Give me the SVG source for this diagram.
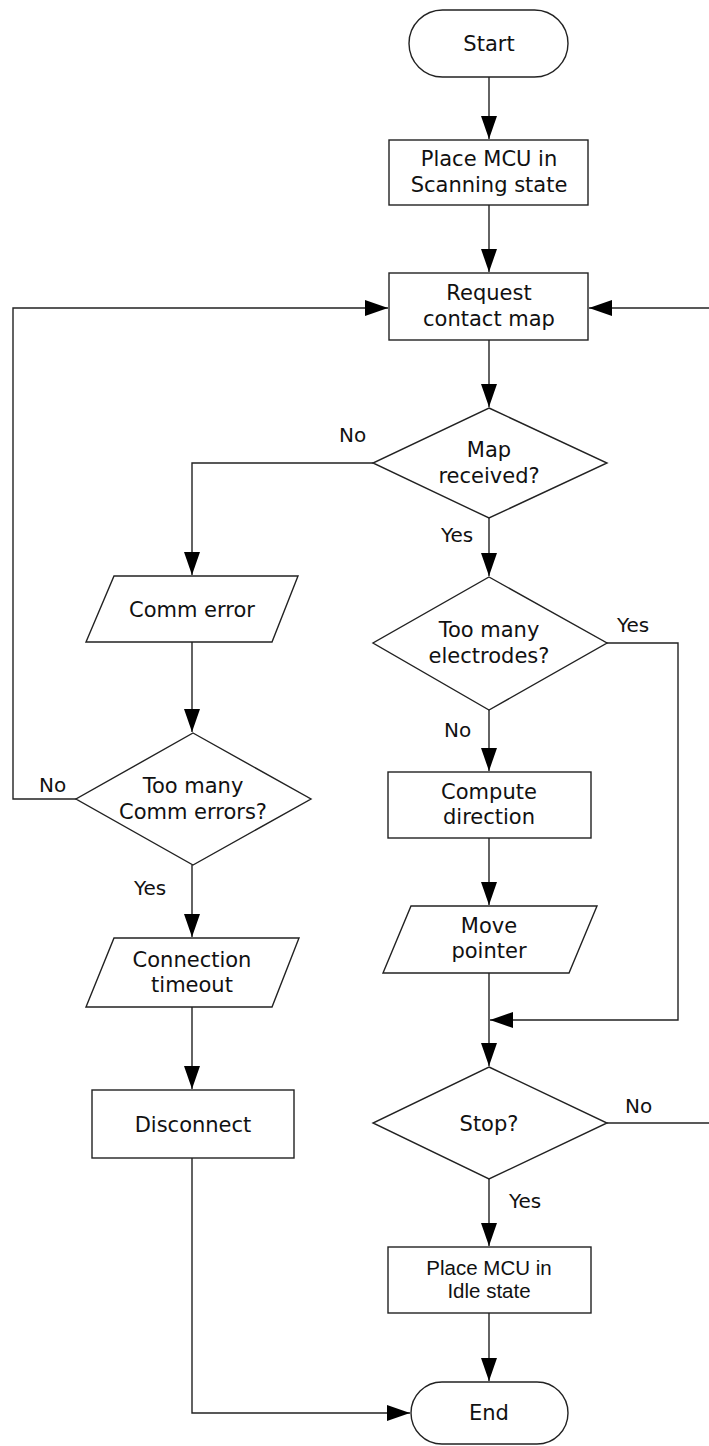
<svg xmlns="http://www.w3.org/2000/svg" width="709" height="1446" viewBox="0 0 709 1446">
<style>
.s{fill:#fff;stroke:#222;stroke-width:1.4}
.c{fill:none;stroke:#222;stroke-width:1.4}
.t{font-family:"DejaVu Sans",Verdana,sans-serif;font-size:21px;fill:#111;text-anchor:middle}
.a{font-family:"Liberation Sans",Arial,sans-serif;font-size:20.5px;fill:#111;text-anchor:middle}
.l{font-family:"DejaVu Sans",Verdana,sans-serif;font-size:20px;fill:#111}
</style>
<defs>
<marker id="ah" markerUnits="userSpaceOnUse" markerWidth="24" markerHeight="18" refX="23" refY="8" orient="auto">
<path d="M0,0 L23,8 L0,16 z" fill="#000"/>
</marker>
</defs>
<rect width="709" height="1446" fill="#fff"/>
<g id="connectors">
<path class="c" d="M489,77 V139" marker-end="url(#ah)"/>
<path class="c" d="M489,205 V272" marker-end="url(#ah)"/>
<path class="c" d="M489,340 V407" marker-end="url(#ah)"/>
<path class="c" d="M76,799 H13 V308 H388" marker-end="url(#ah)"/>
<path class="c" d="M709,308 H589" marker-end="url(#ah)"/>
<path class="c" d="M373,463 H192 V575" marker-end="url(#ah)"/>
<path class="c" d="M489,518 V576" marker-end="url(#ah)"/>
<path class="c" d="M607,643 H678 V1020 H490" marker-end="url(#ah)"/>
<path class="c" d="M489,710 V771" marker-end="url(#ah)"/>
<path class="c" d="M489,838 V905" marker-end="url(#ah)"/>
<path class="c" d="M489,973 V1066" marker-end="url(#ah)"/>
<path class="c" d="M607,1123 H709"/>
<path class="c" d="M489,1179 V1246" marker-end="url(#ah)"/>
<path class="c" d="M489,1313 V1381" marker-end="url(#ah)"/>
<path class="c" d="M192,642 V732" marker-end="url(#ah)"/>
<path class="c" d="M192,865 V937" marker-end="url(#ah)"/>
<path class="c" d="M192,1007 V1089" marker-end="url(#ah)"/>
<path class="c" d="M192,1158 V1413 H410" marker-end="url(#ah)"/>
<text class="l" x="339" y="442">No</text>
<text class="l" x="441" y="542">Yes</text>
<text class="l" x="617" y="632">Yes</text>
<text class="l" x="444" y="737">No</text>
<text class="l" x="39" y="792">No</text>
<text class="l" x="134" y="895">Yes</text>
<text class="l" x="625" y="1113">No</text>
<text class="l" x="509" y="1208">Yes</text>
</g>
<g id="start">
<rect class="s" x="409" y="10" width="159" height="67" rx="33.5"/>
<text class="t" x="489" y="51">Start</text>
</g>
<g id="scanning">
<rect class="s" x="389" y="140" width="199" height="65"/>
<text class="t" x="489" y="166">Place MCU in</text>
<text class="t" x="489" y="192">Scanning state</text>
</g>
<g id="request">
<rect class="s" x="389" y="273" width="199" height="67"/>
<text class="t" x="489" y="300">Request</text>
<text class="t" x="489" y="326">contact map</text>
</g>
<g id="map-received">
<polygon class="s" points="489,408 607,463 489,518 373,463"/>
<text class="t" x="489" y="457">Map</text>
<text class="t" x="489" y="483">received?</text>
</g>
<g id="too-many-electrodes">
<polygon class="s" points="489,577 607,643 489,710 373,643"/>
<text class="t" x="489" y="637">Too many</text>
<text class="t" x="489" y="663">electrodes?</text>
</g>
<g id="comm-error">
<polygon class="s" points="114,576 298,576 272,642 86,642"/>
<text class="t" x="192" y="617">Comm error</text>
</g>
<g id="too-many-comm-errors">
<polygon class="s" points="193,733 311,799 193,865 76,799"/>
<text class="t" x="193" y="793">Too many</text>
<text class="t" x="193" y="819">Comm errors?</text>
</g>
<g id="compute-direction">
<rect class="s" x="388" y="772" width="203" height="66"/>
<text class="t" x="489" y="799">Compute</text>
<text class="t" x="489" y="824">direction</text>
</g>
<g id="move-pointer">
<polygon class="s" points="411,906 597,906 569,973 383,973"/>
<text class="t" x="489" y="933">Move</text>
<text class="t" x="489" y="958">pointer</text>
</g>
<g id="connection-timeout">
<polygon class="s" points="114,938 299,938 272,1007 86,1007"/>
<text class="t" x="192" y="967">Connection</text>
<text class="t" x="192" y="992">timeout</text>
</g>
<g id="disconnect">
<rect class="s" x="92" y="1090" width="202" height="68"/>
<text class="t" x="193" y="1132">Disconnect</text>
</g>
<g id="stop">
<polygon class="s" points="489,1067 607,1123 489,1179 373,1123"/>
<text class="t" x="489" y="1131">Stop?</text>
</g>
<g id="idle">
<rect class="s" x="388" y="1247" width="203" height="66"/>
<text class="a" x="489" y="1275">Place MCU in</text>
<text class="a" x="489" y="1298">Idle state</text>
</g>
<g id="end">
<rect class="s" x="411" y="1382" width="157" height="62" rx="31"/>
<text class="t" x="489" y="1420">End</text>
</g>
</svg>
